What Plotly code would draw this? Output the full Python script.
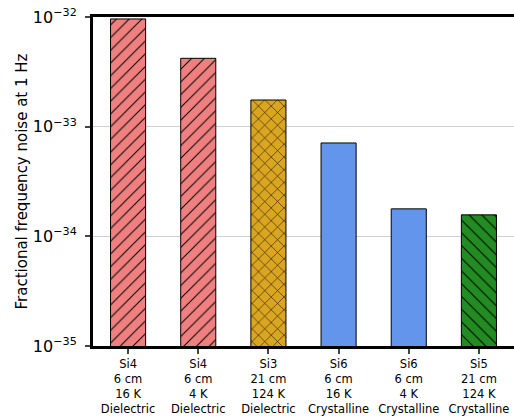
import plotly.graph_objects as go

# Cavity configurations and their thermal-noise floor at 1 Hz
cavities = ["Si4", "Si4", "Si3", "Si6", "Si6", "Si5"]
lengths = ["6 cm", "6 cm", "21 cm", "6 cm", "6 cm", "21 cm"]
temperatures = ["16 K", "4 K", "124 K", "16 K", "4 K", "124 K"]
coatings = ["Dielectric", "Dielectric", "Dielectric", "Crystalline", "Crystalline", "Crystalline"]
noise = [9.6e-33, 4.2e-33, 1.75e-33, 7.1e-34, 1.78e-34, 1.57e-34]

colors = ["#F08080", "#F08080", "#DAA520", "#6495ED", "#6495ED", "#228B22"]
hatches = ["/", "/", "x", "", "", "\\"]

tick_labels = [f"{c}<br>{l}<br>{t}<br>{m}" for c, l, t, m in zip(cavities, lengths, temperatures, coatings)]
x = list(range(len(noise)))

fig = go.Figure()
# one trace per bar so each hatch keeps its own black foreground
for xi, val, col, hatch in zip(x, noise, colors, hatches):
    fig.add_trace(
        go.Bar(
            x=[xi],
            y=[val],
            width=0.5,
            marker=dict(
                color=col,
                line=dict(color="black", width=1),
                pattern=dict(
                    shape=hatch,
                    fillmode="replace",
                    bgcolor=col,
                    fgcolor="black",
                    fgopacity=1,
                    size=9,
                    solidity=0.11,
                ),
            ),
        )
    )

decades = [1e-35, 1e-34, 1e-33, 1e-32]
decade_text = ["10<sup>−35</sup>", "10<sup>−34</sup>", "10<sup>−33</sup>", "10<sup>−32</sup>"]

fig.update_layout(
    width=514,
    height=416,
    margin=dict(l=93, r=0, t=17, b=70),
    plot_bgcolor="white",
    paper_bgcolor="white",
    font=dict(family="DejaVu Sans", color="black"),
    showlegend=False,
    barmode="overlay",
)
fig.update_xaxes(
    range=[-0.5, 5.5],
    tickvals=x,
    ticktext=tick_labels,
    tickfont=dict(size=11.5),
    ticks="outside",
    ticklen=5,
    tickwidth=1.5,
    showline=True,
    linewidth=3,
    linecolor="black",
    mirror=True,
    showgrid=False,
)
fig.update_yaxes(
    type="log",
    range=[-35, -32],
    tickvals=decades,
    ticktext=decade_text,
    tickfont=dict(size=16),
    ticks="outside",
    ticklen=5,
    tickwidth=1.5,
    ticklabelstandoff=5,
    showline=True,
    linewidth=3,
    linecolor="black",
    showgrid=True,
    gridcolor="#d0d0d0",
    gridwidth=1,
    title=dict(text="Fractional frequency noise at 1 Hz", font=dict(size=15), standoff=2),
)

fig.write_html("out.html")
